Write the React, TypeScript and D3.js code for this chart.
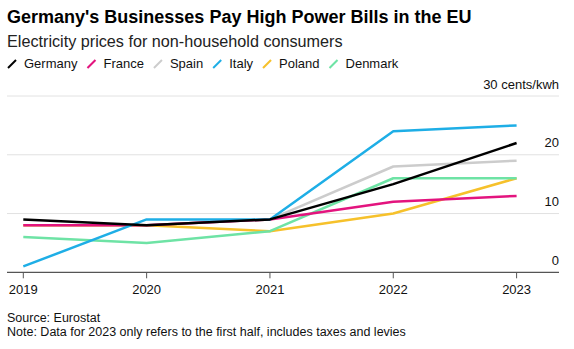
import { useEffect, useRef } from 'react';
import * as d3 from 'd3';

const YEARS = [2019, 2020, 2021, 2022, 2023];
const COUNTRIES = ['Germany', 'France', 'Spain', 'Italy', 'Poland', 'Denmark'];
const COLORS = ['#000000', '#e3147e', '#cccccc', '#1eaee6', '#f6c12b', '#6ee3a5'];

// cents per kWh, one array per country, same order as YEARS
const GERMANY = [9, 8, 9, 15, 22];
const FRANCE = [8, 8, 9, 12, 13];
const SPAIN = [8, 8, 9, 18, 19];
const ITALY = [1, 9, 9, 24, 25];
const POLAND = [8, 8, 7, 10, 16];
const DENMARK = [6, 5, 7, 16, 16];

const Y_TICKS = [0, 10, 20, 30];

const SERIES: Record<string, number[]> = {
  Germany: GERMANY,
  France: FRANCE,
  Spain: SPAIN,
  Italy: ITALY,
  Poland: POLAND,
  Denmark: DENMARK,
};

// draw order: Germany last so it sits on top
const DRAW_ORDER = ['Spain', 'Poland', 'Denmark', 'France', 'Italy', 'Germany'];

const FONT = '"Liberation Sans", Arial, sans-serif';

export default function App() {
  const svgRef = useRef<SVGSVGElement>(null);

  useEffect(() => {
    const svg = d3.select(svgRef.current);
    if (!svg.node()) return;
    svg.selectAll('*').remove();

    const width = 574;
    const height = 349;
    const plot = { left: 7, right: 559, top: 96, bottom: 272.3 };

    const x = d3
      .scalePoint<number>()
      .domain(YEARS)
      .range([23.3, 516.6]);
    const y = d3.scaleLinear().domain([0, 30]).range([plot.bottom, plot.top]);

    svg.attr('viewBox', `0 0 ${width} ${height}`);
    const g = svg.append('g').attr('font-family', FONT);

    g.append('text')
      .attr('x', 7)
      .attr('y', 23)
      .attr('font-size', 18)
      .attr('font-weight', 'bold')
      .attr('fill', '#000')
      .text("Germany's Businesses Pay High Power Bills in the EU");

    g.append('text')
      .attr('x', 7)
      .attr('y', 47)
      .attr('font-size', 16.2)
      .attr('fill', '#222')
      .text('Electricity prices for non-household consumers');

    // legend: slash marker + name, laid out by measured text width
    let lx = 8;
    COUNTRIES.forEach((name, i) => {
      g.append('line')
        .attr('x1', lx)
        .attr('y1', 68)
        .attr('x2', lx + 8)
        .attr('y2', 60)
        .attr('stroke', COLORS[i])
        .attr('stroke-width', 2);
      const t = g
        .append('text')
        .attr('x', lx + 16)
        .attr('y', 68)
        .attr('font-size', 13)
        .attr('fill', '#111')
        .text(name);
      const w = (t.node() as SVGTextElement).getComputedTextLength();
      lx += 16 + w + 10;
    });

    // grid
    g.append('g')
      .selectAll('line')
      .data(Y_TICKS.filter((d) => d > 0))
      .join('line')
      .attr('x1', plot.left)
      .attr('x2', plot.right)
      .attr('y1', (d) => y(d))
      .attr('y2', (d) => y(d))
      .attr('stroke', '#e2e2e2')
      .attr('stroke-width', 1);

    g.append('g')
      .selectAll('text')
      .data(Y_TICKS)
      .join('text')
      .attr('x', plot.right)
      .attr('y', (d) => y(d) - 7.5)
      .attr('text-anchor', 'end')
      .attr('font-size', 13)
      .attr('fill', '#111')
      .text((d) => (d === 30 ? '30 cents/kwh' : String(d)));

    // x axis
    const xAxis = g
      .append('g')
      .attr('transform', `translate(0,${plot.bottom})`);
    xAxis
      .append('line')
      .attr('x1', plot.left)
      .attr('x2', plot.right)
      .attr('stroke', '#555')
      .attr('stroke-width', 1.2);
    xAxis
      .selectAll('line.tick')
      .data(YEARS)
      .join('line')
      .attr('class', 'tick')
      .attr('x1', (d) => x(d)!)
      .attr('x2', (d) => x(d)!)
      .attr('y1', 0)
      .attr('y2', 6)
      .attr('stroke', '#555');
    xAxis
      .selectAll('text')
      .data(YEARS)
      .join('text')
      .attr('x', (d) => x(d)!)
      .attr('y', 22)
      .attr('text-anchor', 'middle')
      .attr('font-size', 13)
      .attr('fill', '#111')
      .text((d) => String(d));

    const line = d3
      .line<number>()
      .x((_, i) => x(YEARS[i])!)
      .y((d) => y(d));

    DRAW_ORDER.forEach((name) => {
      g.append('path')
        .datum(SERIES[name])
        .attr('fill', 'none')
        .attr('stroke', COLORS[COUNTRIES.indexOf(name)])
        .attr('stroke-width', 2.5)
        .attr('stroke-linejoin', 'round')
        .attr('d', line);
    });

    g.append('text')
      .attr('x', 7)
      .attr('y', 321.5)
      .attr('font-size', 12.5)
      .attr('fill', '#111')
      .text('Source: Eurostat');
    g.append('text')
      .attr('x', 7)
      .attr('y', 336)
      .attr('font-size', 12.5)
      .attr('fill', '#111')
      .text('Note: Data for 2023 only refers to the first half, includes taxes and levies');
  }, []);

  return (
    <svg
      ref={svgRef}
      width={574}
      height={349}
      style={{ position: 'absolute', left: 0, top: 0, background: '#fff' }}
    />
  );
}
